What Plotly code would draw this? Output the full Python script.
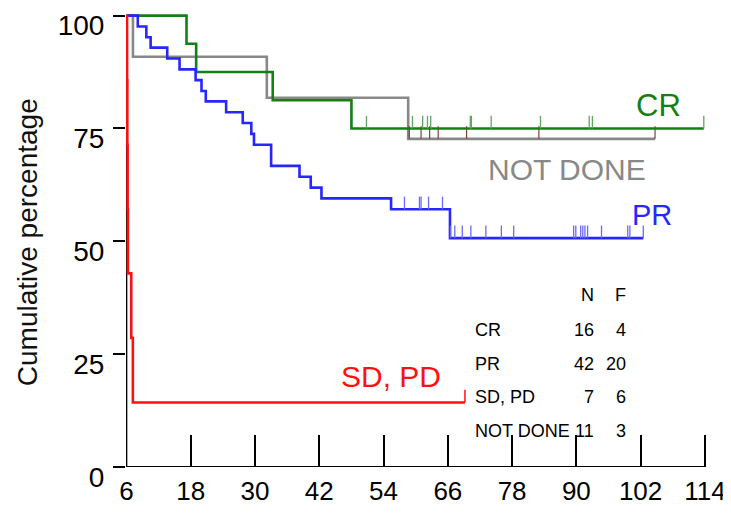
import numpy as np
import plotly.graph_objects as go

# ---- data ----
x_ticks = [6, 18, 30, 42, 54, 66, 78, 90, 102, 114]
y_ticks = [0, 25, 50, 75, 100]

cr_time = [6, 17.2, 19.0, 33.3, 48.0, 113.8]
cr_surv = [100, 93.75, 87.5, 81.25, 75.0, 75.0]
cr_censor = [50.8, 59.4, 61.3, 62.2, 62.8, 70.2, 70.4, 74.1, 83.3, 92.4, 93.0, 113.8]

pr_time = [6, 8.1, 9.7, 10.5, 13.6, 15.9, 18.9, 20.0, 20.8, 24.6, 27.7, 29.3,
           29.8, 33.0, 38.3, 40.4, 42.4, 55.4, 66.4, 102.5]
pr_surv = [100, 97.6, 95.2, 92.9, 90.5, 88.1, 85.7, 83.3, 81.0, 78.6, 76.2, 73.8,
           71.4, 66.7, 64.3, 61.9, 59.5, 57.1, 50.7, 50.7]
pr_censor = [57.9, 60.7, 61.0, 62.4, 65.0, 66.5, 67.3, 68.7, 70.3, 73.1, 76.0,
             78.3, 89.5, 89.9, 90.8, 91.2, 91.6, 92.1, 94.7, 99.6, 100.0, 102.5]

sd_time = [6, 6.1, 6.15, 6.2, 6.25, 6.88, 7.18, 69.2]
sd_surv = [100, 85.7, 71.4, 57.1, 42.9, 28.6, 14.3, 14.3]
sd_censor = [69.2]

nd_time = [6, 7.2, 32.2, 58.6, 104.7]
nd_surv = [100, 90.9, 81.8, 72.7, 72.7]
nd_censor = [58.8, 61.0, 62.6, 64.2, 69.5, 83.0, 104.7]

tbl_groups = ["CR", "PR", "SD, PD", "NOT DONE"]
tbl_n = [16, 42, 7, 11]
tbl_f = [4, 20, 6, 3]

# ---- styles ----
FONT = "Liberation Sans, Arial, sans-serif"
C_CR, C_PR, C_SD, C_ND = "#138013", "#2626ff", "#ff1010", "#888888"

fig = go.Figure()


def step_val(times, survs, t):
    i = np.searchsorted(np.array(times), t, side="right") - 1
    return survs[max(i, 0)]


def add_curve(times, survs, censor, color, tick_color, tick_w):
    fig.add_trace(go.Scatter(x=times, y=survs, mode="lines", line_shape="hv",
                             line=dict(color=color, width=2.6), hoverinfo="skip"))
    xs, ys = [], []
    for t in censor:
        s = step_val(times, survs, t)
        xs += [t, t, None]
        ys += [s, s + 2.8, None]
    fig.add_trace(go.Scatter(x=xs, y=ys, mode="lines",
                             line=dict(color=tick_color, width=tick_w), hoverinfo="skip"))


add_curve(nd_time, nd_surv, nd_censor, C_ND, "#8b3a3a", 1.2)
add_curve(cr_time, cr_surv, cr_censor, C_CR, "#5da85d", 1.3)
add_curve(pr_time, pr_surv, pr_censor, C_PR, "#6a6aff", 1.3)
add_curve(sd_time, sd_surv, sd_censor, C_SD, C_SD, 1.5)

# axis lines
fig.add_shape(type="line", x0=6, x1=6, y0=0, y1=100, xref="x", yref="y",
              line=dict(color="black", width=1.6), layer="below")
fig.add_shape(type="line", x0=6, x1=114, y0=0, y1=0, xref="x", yref="y",
              line=dict(color="black", width=2), layer="below")

# curve labels
labels = [("CR", 105.4, 80.0, C_CR, 31), ("NOT DONE", 88.2, 66.0, C_ND, 30),
          ("PR", 104.1, 55.8, C_PR, 29), ("SD, PD", 55.4, 20.1, C_SD, 30)]
for txt, x, y, c, s in labels:
    fig.add_annotation(x=x, y=y, xref="x", yref="y", text=txt, showarrow=False,
                       xanchor="center", yanchor="middle",
                       font=dict(family=FONT, size=s, color=c))

# table
tf = dict(family=FONT, size=18, color="black")
fig.add_annotation(x=93.6, y=38.2, text="N", showarrow=False, xanchor="right",
                   yanchor="middle", font=tf)
fig.add_annotation(x=99.7, y=38.2, text="F", showarrow=False, xanchor="right",
                   yanchor="middle", font=tf)
row_y = [30.4, 22.9, 15.4, 7.9]
for g, n, f, y in zip(tbl_groups, tbl_n, tbl_f, row_y):
    fig.add_annotation(x=70.7, y=y, text=g, showarrow=False, xanchor="left",
                       yanchor="middle", font=tf)
    fig.add_annotation(x=93.6, y=y, text=str(n), showarrow=False, xanchor="right",
                       yanchor="middle", font=tf)
    fig.add_annotation(x=99.7, y=y, text=str(f), showarrow=False, xanchor="right",
                       yanchor="middle", font=tf)

# y title
fig.add_annotation(x=-0.1696, y=0.495, xref="paper", yref="paper",
                   text="Cumulative percentage", textangle=-90, showarrow=False,
                   xanchor="center", yanchor="middle",
                   font=dict(family=FONT, size=28, color="#111111"))

fig.update_xaxes(range=[5.9, 114.4], tickmode="array", tickvals=x_ticks,
                 ticktext=[str(v) for v in x_ticks], ticks="inside", ticklen=32,
                 tickwidth=2, tickcolor="black", showline=False, showgrid=False,
                 zeroline=False, automargin=False, ticklabelstandoff=6,
                 ticklabeloverflow="allow",
                 tickfont=dict(family=FONT, size=26, color="black"))
fig.update_yaxes(range=[0, 100.8], tickmode="array", tickvals=y_ticks,
                 ticktext=[str(v) for v in y_ticks], ticks="outside", ticklen=12,
                 tickwidth=2, tickcolor="black", showline=False, showgrid=False,
                 zeroline=False, automargin=False, ticklabeloverflow="allow",
                 ticklabelshift=10, ticklabelstandoff=3,
                 tickfont=dict(family=FONT, size=28, color="black"))

# the page places the figure 8px in from the top-left corner; margins compensate
fig.update_layout(width=731, height=514, showlegend=False, template="none",
                  margin=dict(l=118.46, r=31.9, t=4.1, b=54.7, pad=0),
                  plot_bgcolor="white", paper_bgcolor="white")

fig.write_html("out.html")
